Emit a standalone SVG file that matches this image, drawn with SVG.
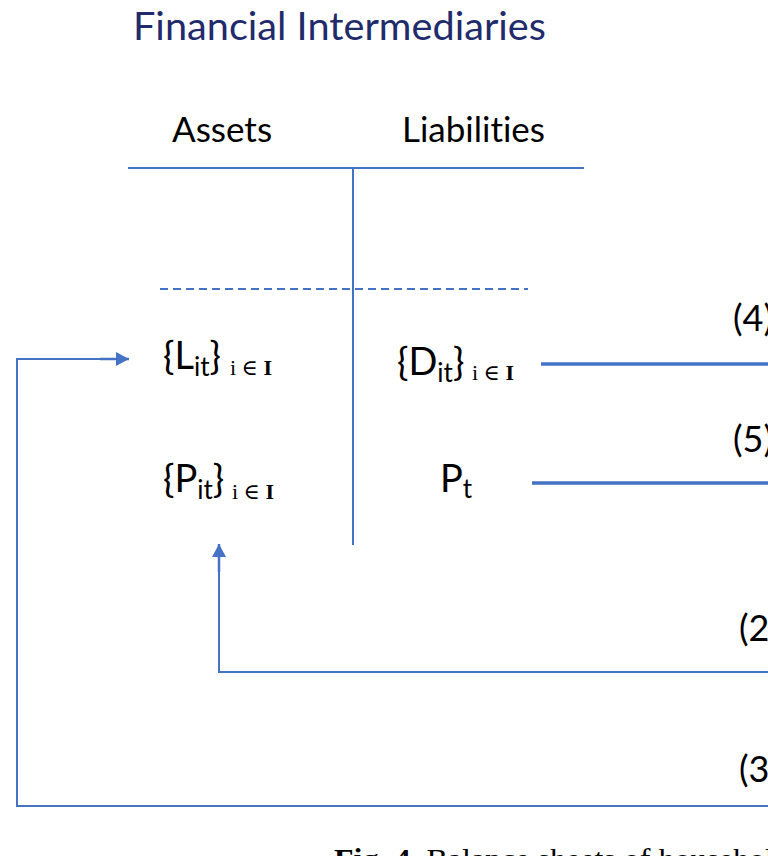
<svg xmlns="http://www.w3.org/2000/svg" width="768" height="856" viewBox="0 0 768 856">
<defs>
<style>
.t{font-family:Lato,"Open Sans","Liberation Sans",sans-serif;fill:#000;font-variant-ligatures:none}
.title{font-family:Lato,"Open Sans","Liberation Sans",sans-serif;font-size:38px;fill:#1f2b6b;font-variant-ligatures:none}
.h{font-size:35px}
.m{font-size:38px}
.sub{font-size:26px}
.idx{font-family:"Liberation Serif","DejaVu Serif",serif;font-size:22px;fill:#000}
.lab{font-size:36px}
.cap{font-family:"Liberation Serif","DejaVu Serif",serif;font-size:30px;fill:#000}
.ln{stroke:#4472c4;fill:none;stroke-width:2}
.thick{stroke-width:3.5}
.arr{stroke-width:2.5}
</style>
<marker id="ah" markerUnits="userSpaceOnUse" markerWidth="14" markerHeight="14" refX="13" refY="7" orient="auto">
<path d="M0,0 L13,7 L0,14 z" fill="#4472c4"/>
</marker>
</defs>
<rect width="768" height="856" fill="#fff"/>

<g id="title">
<text class="title" x="133" y="40" textLength="413" lengthAdjust="spacingAndGlyphs">Financial Intermediaries</text>
</g>

<g id="balance-sheet">
<text class="t h" x="172" y="142">Assets</text>
<text class="t h" x="402" y="142">Liabilities</text>
<line class="ln" x1="128" y1="168" x2="584" y2="168"/>
<line class="ln" x1="353" y1="168" x2="353" y2="545"/>
<line class="ln" x1="160" y1="289" x2="528" y2="289" stroke-dasharray="8 5"/>
</g>

<g id="loans">
<text class="t m" x="163" y="369">{L<tspan class="sub" dy="7">it</tspan><tspan dy="-7">}</tspan></text>
<text class="idx" x="230" y="375">i ∈ <tspan font-weight="bold">I</tspan></text>
</g>

<g id="deposits">
<text class="t m" x="397" y="375">{D<tspan class="sub" dy="7">it</tspan><tspan dy="-7">}</tspan></text>
<text class="idx" x="472" y="380">i ∈ <tspan font-weight="bold">I</tspan></text>
</g>

<g id="equity-holdings">
<text class="t m" x="163" y="492">{P<tspan class="sub" dy="7">it</tspan><tspan dy="-7">}</tspan></text>
<text class="idx" x="232" y="499">i ∈ <tspan font-weight="bold">I</tspan></text>
</g>

<g id="equity">
<text class="t m" x="440" y="492">P<tspan class="sub" dy="6">t</tspan></text>
</g>

<g id="connectors">
<line class="ln thick" x1="541" y1="364" x2="768" y2="364"/>
<line class="ln thick" x1="532" y1="483" x2="768" y2="483"/>
<polyline class="ln" points="768,672 219,672 219,560"/>
<line class="ln arr" x1="219" y1="572" x2="219" y2="544" marker-end="url(#ah)"/>
<polyline class="ln" points="768,806 17,806 17,359 110,359"/>
<line class="ln arr" x1="100" y1="359" x2="129" y2="359" marker-end="url(#ah)"/>
<text class="t lab" x="733" y="331">(4)</text>
<text class="t lab" x="733" y="452">(5)</text>
<text class="t lab" x="739" y="641">(2)</text>
<text class="t lab" x="739" y="782">(3)</text>
</g>

<g id="caption">
<text class="cap" x="334" y="869" textLength="440" lengthAdjust="spacingAndGlyphs"><tspan font-weight="bold">Fig. 4.</tspan>  Balance sheets of househol</text>
</g>
</svg>
